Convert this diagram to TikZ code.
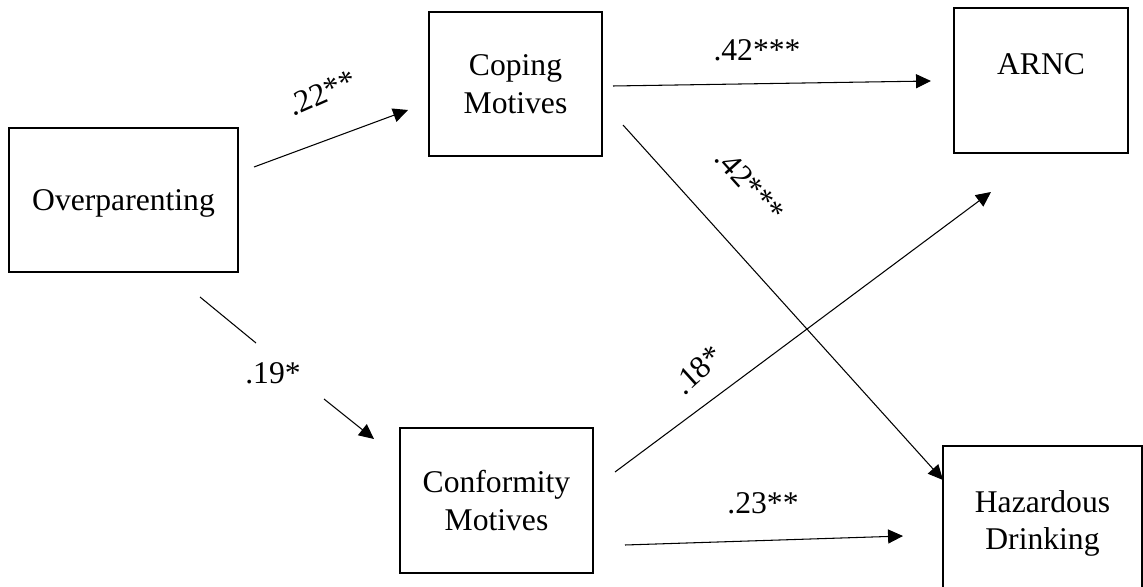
\documentclass[tikz,border=0pt]{standalone}
\usepackage{fontspec}
\setmainfont{Liberation Serif}
\usetikzlibrary{positioning, calc, arrows.meta}

\begin{document}
\begin{tikzpicture}[x=0.02cm, y=-0.02cm,
    >={Triangle[length=8.5pt, width=8pt]},
    every node/.style={font=\fontsize{18}{21.3}\selectfont},
    varbox/.style={draw, line width=0.85pt, align=center, inner sep=0pt, text depth=0pt},
    link/.style={line width=0.6pt}]
    \useasboundingbox (0,0) rectangle (1143,587);
    \clip (0,0) rectangle (1143,587);
    % variables
    \node[varbox, minimum width=4.58cm, minimum height=2.88cm] (over) at (123.5,200) {Overparenting};
    \node[varbox, minimum width=3.46cm, minimum height=2.88cm] (coping) at (515.5,84) {Coping\\Motives};
    \node[varbox, minimum width=3.86cm, minimum height=2.9cm] (conform) at (496.5,500.5) {Conformity\\Motives};
    \node[varbox, minimum width=3.48cm, minimum height=2.9cm] (arnc) at (1041,80.5) {};
    \node (arnctext) at (1041,64.5) {ARNC};
    \node[varbox, minimum width=3.98cm, minimum height=2.96cm] (hazard) at (1042.5,520) {Hazardous\\Drinking};
    % path end points
    \coordinate (over-a) at (254,167);
    \coordinate (coping-a) at (408,110);
    \coordinate (over-b) at (200,297);
    \coordinate (over-b2) at (256,343);
    \coordinate (conform-b1) at (324,399);
    \coordinate (conform-b) at (374,439);
    \coordinate (coping-c) at (613,86);
    \coordinate (arnc-c) at (931,81);
    \coordinate (coping-d) at (623,125);
    \coordinate (hazard-d) at (943,480);
    \coordinate (conform-e) at (615,472);
    \coordinate (arnc-e) at (991,192);
    \coordinate (conform-f) at (625,545);
    \coordinate (hazard-f) at (903,536);
    % paths
    \draw[link, ->] (over-a) -- (coping-a);
    \draw[link] (over-b) -- (over-b2);
    \draw[link, ->] (conform-b1) -- (conform-b);
    \draw[link, ->] (coping-c) -- (arnc-c);
    \draw[link, ->] (coping-d) -- (hazard-d);
    \draw[link, ->] (conform-e) -- (arnc-e);
    \draw[link, ->] (conform-f) -- (hazard-f);
    % coefficients
    \node[rotate=24] (c22) at (322,93) {.22**};
    \node (c19) at (273,373) {.19*};
    \node (c42a) at (757,50) {.42***};
    \node[rotate=-48] (c42b) at (750,185) {.42***};
    \node[rotate=42] (c18) at (698,370) {.18*};
    \node (c23) at (763,503) {.23**};
\end{tikzpicture}
\end{document}
